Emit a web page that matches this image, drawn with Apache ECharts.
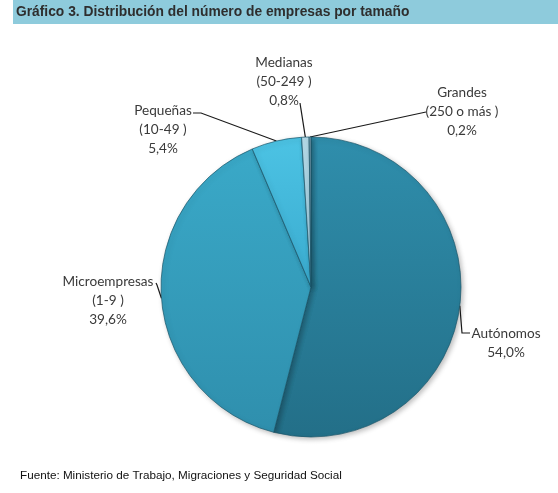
<!DOCTYPE html>
<html>
<head>
<meta charset="utf-8">
<script src="https://cdn.jsdelivr.net/npm/echarts@6/dist/echarts.min.js"></script>
<style>
  html, body { margin: 0; padding: 0; background: #fff; }
  #chart { width: 558px; height: 493px; }
</style>
</head>
<body>
<div id="chart"></div>
<script>
// datos del gráfico
var categorias = ['Autónomos', 'Microempresas', 'Pequeñas', 'Medianas', 'Grandes'];
var tramos = ['', '(1-9 )', '(10-49 )', '(50-249 )', '(250 o más )'];
var porcentajes = [54.0, 39.6, 5.4, 0.8, 0.2];

var colores = [
	['#2f8eac', '#236f88'],
	['#3aa9c8', '#2f8fad'],
	['#4cc3e4', '#3aabcf'],
	['#b6dcea', '#98c8dc'],
	['#7f9fb0', '#64889a']
];

// posición de etiquetas: centro del texto y puntos de la línea guía
var etiquetas = [
	{x: 506, y: 343, p1: [462, 333], p2: [470, 333]},
	{x: 108, y: 301, p1: [157, 285], p2: [156, 283]},
	{x: 163, y: 130, p1: [201, 113], p2: [193, 113]},
	{x: 284, y: 82, p1: [300, 103], p2: [300, 103]},
	{x: 462, y: 112, p1: [426, 112], p2: [426, 112]}
];

var datos = [];
for (var i = 0; i < categorias.length; i++) {
	datos.push({
		name: categorias[i],
		value: porcentajes[i],
		itemStyle: {
			color: {
				type: 'linear', x: 0, y: 0, x2: 0, y2: 1,
				colorStops: [{offset: 0, color: colores[i][0]}, {offset: 1, color: colores[i][1]}]
			}
		}
	});
}

var chart = echarts.init(document.getElementById('chart'));

var option = {
	backgroundColor: '#fff',
	animation: false,
	graphic: [
		{
			type: 'rect',
			shape: {x: 13, y: 0, width: 545, height: 24},
			style: {fill: '#8ecbdc'}
		},
		{
			type: 'text',
			x: 16, y: 12,
			style: {
				text: 'Gráfico 3. Distribución del número de empresas por tamaño',
				font: 'bold 13.8px "Liberation Sans", Arial, sans-serif',
				fill: '#2e2e2e',
				verticalAlign: 'middle'
			}
		},
		{
			type: 'text',
			x: 20, y: 476,
			style: {
				text: 'Fuente: Ministerio de Trabajo, Migraciones y Seguridad Social',
				font: '11.7px "Liberation Sans", Arial, sans-serif',
				fill: '#111',
				verticalAlign: 'middle'
			}
		}
	],
	series: [
		{
			type: 'pie',
			center: [311, 287],
			radius: 150,
			startAngle: 90,
			clockwise: true,
			data: datos,
			itemStyle: {
				borderColor: 'rgba(25,85,105,0.7)',
				borderWidth: 1,
				shadowBlur: 5,
				shadowColor: 'rgba(0,0,0,0.25)',
				shadowOffsetX: 2,
				shadowOffsetY: 2
			},
			label: {
				show: true,
				overflow: 'none',
				fontFamily: 'Lato, "Open Sans", sans-serif',
				fontSize: 13.6,
				lineHeight: 19,
				color: '#3a3a3a',
				align: 'center',
				formatter: function (p) {
					var t = tramos[p.dataIndex];
					var v = p.value.toFixed(1).replace('.', ',') + '%';
					return t ? p.name + '\n' + t + '\n' + v : p.name + '\n' + v;
				}
			},
			labelLine: {
				show: true,
				lineStyle: {color: '#1a1a1a', width: 1.2}
			},
			labelLayout: function (params) {
				var e = etiquetas[params.dataIndex];
				var inicio = params.labelLinePoints ? params.labelLinePoints[0] : e.p1;
				return {
					x: e.x,
					y: e.y,
					align: 'center',
					verticalAlign: 'middle',
					labelLinePoints: [inicio, e.p1, e.p2]
				};
			}
		}
	]
};

chart.setOption(option);
</script>
</body>
</html>
